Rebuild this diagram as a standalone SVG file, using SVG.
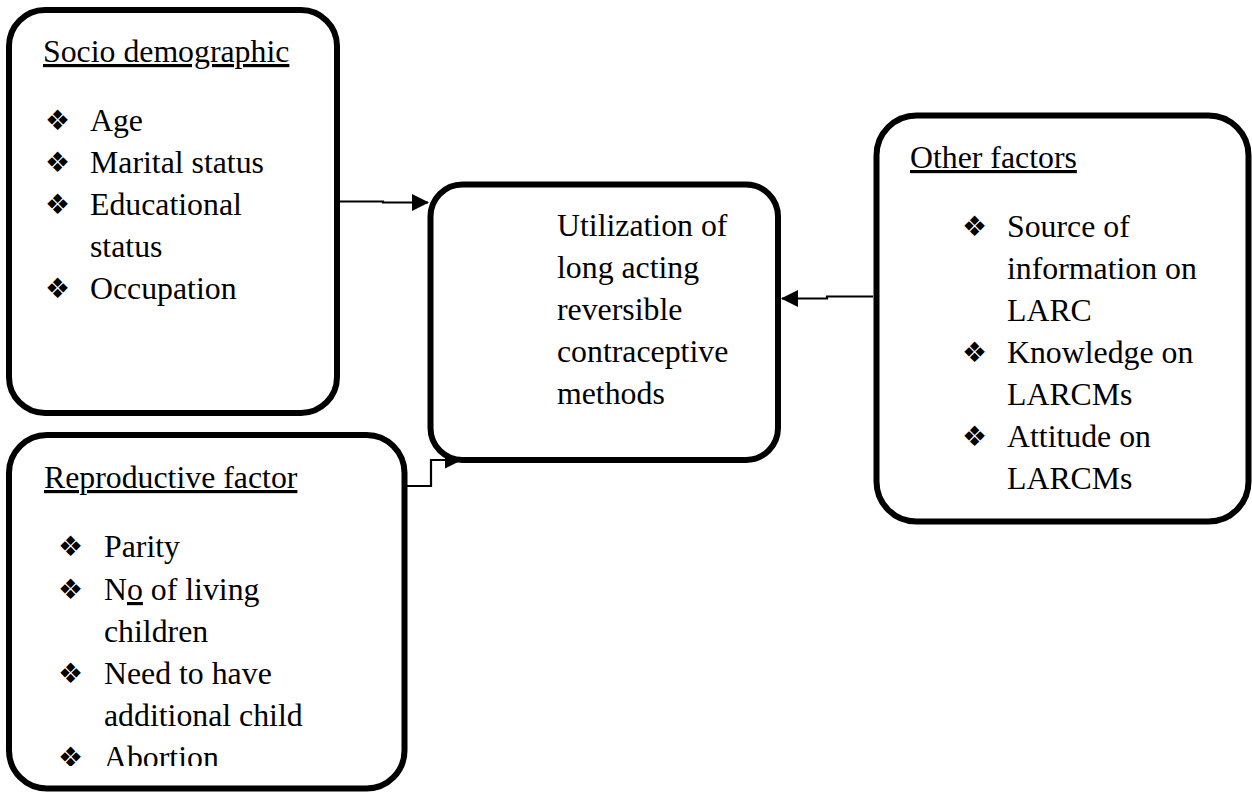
<svg xmlns="http://www.w3.org/2000/svg" width="1252" height="793" viewBox="0 0 1252 793">
<style>
.box{fill:#fff;stroke:#000;stroke-width:6}
.t{font-family:"Liberation Serif","Times New Roman",serif;font-size:31.8px;fill:#000}
.b{font-family:"DejaVu Sans",sans-serif;font-size:28px;fill:#000}
.u{text-decoration:underline}
.c{fill:none;stroke:#000;stroke-width:2.2}
</style>
<defs>
<marker id="ah" markerUnits="userSpaceOnUse" markerWidth="17" markerHeight="17" viewBox="0 0 17 17" refX="16" refY="8.5" orient="auto">
<path d="M0,0 L17,8.5 L0,17 Z" fill="#000"/>
</marker>
<clipPath id="clip2"><rect x="0" y="430" width="420" height="336"/></clipPath>
</defs>
<rect width="1252" height="793" fill="#fff"/>
<g id="connectors">
<path class="c" d="M340,201.5 H383 V202.5 H428" marker-end="url(#ah)"/>
<path class="c" d="M873,296.5 H827 V298.5 H782" marker-end="url(#ah)"/>
<path class="c" d="M407,486 H431 V460 H461" marker-end="url(#ah)"/>
</g>
<g id="socio">
<rect class="box" x="9" y="10" width="328" height="403" rx="36"/>
<text class="t u" x="43" y="62">Socio demographic</text>
<text class="b" x="45" y="130">❖</text><text class="t" x="90" y="131">Age</text>
<text class="b" x="45" y="172">❖</text><text class="t" x="90" y="173">Marital status</text>
<text class="b" x="45" y="214">❖</text><text class="t" x="90" y="215">Educational</text>
<text class="t" x="90" y="257">status</text>
<text class="b" x="45" y="298">❖</text><text class="t" x="90" y="299">Occupation</text>
</g>
<g id="reproductive">
<rect class="box" x="9" y="435" width="395.5" height="353.5" rx="38"/>
<text class="t u" x="44" y="488">Reproductive factor</text>
<g clip-path="url(#clip2)">
<text class="b" x="58" y="556">❖</text><text class="t" x="104" y="557">Parity</text>
<text class="b" x="58" y="599">❖</text><text class="t" x="104" y="600">N<tspan class="u">o</tspan> of living</text>
<text class="t" x="104" y="642">children</text>
<text class="b" x="58" y="683">❖</text><text class="t" x="104" y="684">Need to have</text>
<text class="t" x="104" y="726">additional child</text>
<text class="b" x="58" y="767">❖</text><text class="t" x="104" y="768">Abortion</text>
</g>
</g>
<g id="utilization">
<rect class="box" x="430.5" y="184.5" width="347.5" height="275.5" rx="32"/>
<text class="t" x="557" y="236">Utilization of</text>
<text class="t" x="557" y="278">long acting</text>
<text class="t" x="557" y="320">reversible</text>
<text class="t" x="557" y="362">contraceptive</text>
<text class="t" x="557" y="404">methods</text>
</g>
<g id="other">
<rect class="box" x="876.5" y="115.5" width="372" height="406" rx="40"/>
<text class="t u" x="910" y="168">Other factors</text>
<text class="b" x="962" y="236">❖</text><text class="t" x="1007" y="237">Source of</text>
<text class="t" x="1007" y="279">information on</text>
<text class="t" x="1007" y="321">LARC</text>
<text class="b" x="962" y="362">❖</text><text class="t" x="1007" y="363">Knowledge on</text>
<text class="t" x="1007" y="405">LARCMs</text>
<text class="b" x="962" y="446">❖</text><text class="t" x="1007" y="447">Attitude on</text>
<text class="t" x="1007" y="489">LARCMs</text>
</g>
</svg>
